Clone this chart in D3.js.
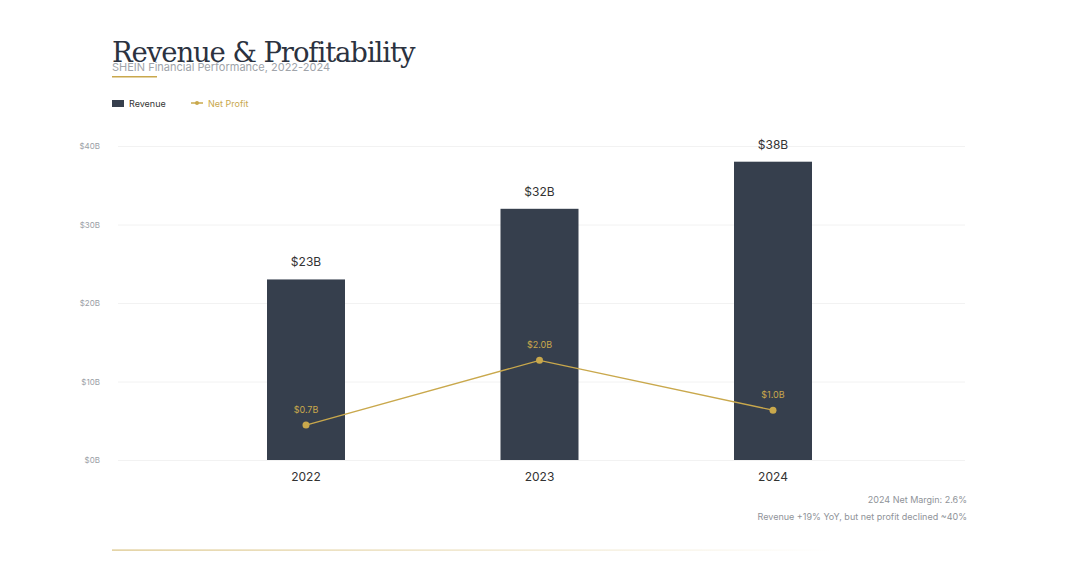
<!DOCTYPE html>
<html><head><meta charset="utf-8">
<script src="https://cdn.jsdelivr.net/npm/d3@7"></script>
<style>body{margin:0;background:#fff}svg{display:block}</style>
</head><body><svg id="c"></svg>
<script>
const years = ["2022", "2023", "2024"];
const revenue = [23, 32, 38];
const revenueLabels = ["$23B", "$32B", "$38B"];
const profit = [0.7, 2.0, 1.0];
const profitLabels = ["$0.7B", "$2.0B", "$1.0B"];
const yTicks = [0, 10, 20, 30, 40];

const W = 1080, H = 568;
const svg = d3.select("#c").attr("width", W).attr("height", H);
const font = "Inter, 'Noto Sans', sans-serif";
const gold = "#c9a84c", dark = "#363f4d";

const defs = svg.append("defs");
const grad = defs.append("linearGradient").attr("id", "fade");
grad.append("stop").attr("offset", "0%").attr("stop-color", gold).attr("stop-opacity", 0.7);
grad.append("stop").attr("offset", "100%").attr("stop-color", gold).attr("stop-opacity", 0);

// header (subtitle overlaps title, as in the original)
svg.append("text").attr("x", 112).attr("y", 62).attr("font-family", "'DejaVu Serif', 'Liberation Serif', serif")
  .attr("font-size", 27.5).attr("fill", "#2b3240").attr("letter-spacing", -1.1).text("Revenue & Profitability");
svg.append("text").attr("x", 112).attr("y", 71).attr("font-family", font).attr("font-size", 11)
  .attr("fill", "#a0a4aa").text("SHEIN Financial Performance, 2022-2024");
svg.append("rect").attr("x", 112).attr("y", 76).attr("width", 45).attr("height", 1.5).attr("fill", gold);

// legend
svg.append("rect").attr("x", 112).attr("y", 100).attr("width", 12).attr("height", 7).attr("fill", dark);
svg.append("text").attr("x", 129).attr("y", 107).attr("font-family", font).attr("font-size", 9).attr("fill", "#333").text("Revenue");
svg.append("line").attr("x1", 191).attr("x2", 203).attr("y1", 103).attr("y2", 103).attr("stroke", gold).attr("stroke-width", 1.5);
svg.append("circle").attr("cx", 197).attr("cy", 103).attr("r", 2).attr("fill", gold);
svg.append("text").attr("x", 208).attr("y", 107).attr("font-family", font).attr("font-size", 9).attr("fill", gold).text("Net Profit");

// scales
const x = d3.scalePoint().domain(years).range([306, 773]);
const y = d3.scaleLinear().domain([0, 40]).range([460, 146]);
const y2 = d3.scaleLinear().domain([0, 6.3]).range([460, 146]);
const barW = 78;

// grid + axis
const axis = svg.append("g").attr("transform", "translate(118,0)")
  .call(d3.axisLeft(y).tickValues(yTicks).tickSize(-847).tickFormat(d => "$" + d + "B"));
axis.select(".domain").remove();
axis.selectAll(".tick line").attr("stroke", "#f2f2f2");
axis.selectAll(".tick text").attr("font-family", font).attr("font-size", 8).attr("fill", "#9a9ea5").attr("x", -18);

// bars
svg.selectAll(".bar").data(years).join("rect")
  .attr("x", d => x(d) - barW / 2).attr("width", barW)
  .attr("y", (d, i) => y(revenue[i])).attr("height", (d, i) => y(0) - y(revenue[i]))
  .attr("fill", dark);
svg.selectAll(".rl").data(years).join("text")
  .attr("x", d => x(d)).attr("y", (d, i) => y(revenue[i]) - 13)
  .attr("text-anchor", "middle").attr("font-family", font).attr("font-size", 12).attr("fill", "#333")
  .text((d, i) => revenueLabels[i]);
svg.selectAll(".xl").data(years).join("text")
  .attr("x", d => x(d)).attr("y", 481).attr("text-anchor", "middle")
  .attr("font-family", font).attr("font-size", 12).attr("fill", "#333").text(d => d);

// profit line
svg.append("path").datum(years)
  .attr("d", d3.line().x(d => x(d)).y((d, i) => y2(profit[i])))
  .attr("fill", "none").attr("stroke", gold).attr("stroke-width", 1.3);
svg.selectAll(".pt").data(years).join("circle")
  .attr("cx", d => x(d)).attr("cy", (d, i) => y2(profit[i])).attr("r", 3.5).attr("fill", gold);
svg.selectAll(".pl").data(years).join("text")
  .attr("x", d => x(d)).attr("y", (d, i) => y2(profit[i]) - 12).attr("text-anchor", "middle")
  .attr("font-family", font).attr("font-size", 9).attr("fill", gold).text((d, i) => profitLabels[i]);

// notes
svg.append("text").attr("x", 967).attr("y", 503).attr("text-anchor", "end").attr("font-family", font)
  .attr("font-size", 9).attr("fill", "#8f9399").text("2024 Net Margin: 2.6%");
svg.append("text").attr("x", 967).attr("y", 520).attr("text-anchor", "end").attr("font-family", font)
  .attr("font-size", 9).attr("fill", "#8f9399").text("Revenue +19% YoY, but net profit declined ~40%");
svg.append("rect").attr("x", 112).attr("y", 549.5).attr("width", 720).attr("height", 1.2).attr("fill", "url(#fade)");
</script></body></html>
